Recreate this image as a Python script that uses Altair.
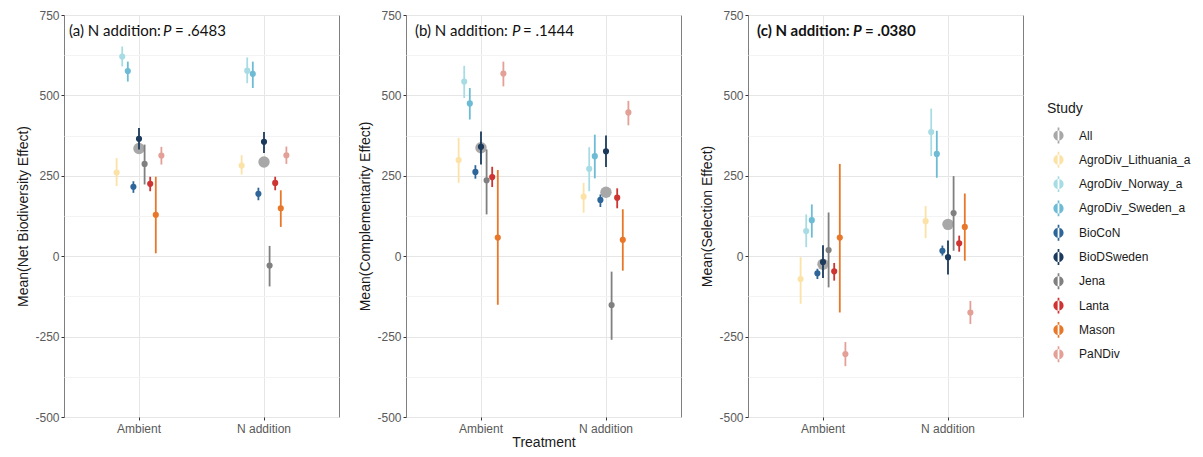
import altair as alt
import pandas as pd

studies = ["AgroDiv_Lithuania_a", "AgroDiv_Norway_a", "AgroDiv_Sweden_a", "BioCoN",
           "BioDSweden", "Jena", "Lanta", "Mason", "PaNDiv"]
legend_order = ["All"] + studies
treatments = ["Ambient", "N addition"]
colors = ["#A8A8A8", "#FCE2A6", "#A8DCE4", "#6DBBD4", "#2F6699", "#1B3A5C",
          "#808080", "#CE3431", "#E8772A", "#E3A097"]

# (a) Net Biodiversity Effect
nbe_amb_mean = [260, 621, 576, 216, 365, 287, 225, 129, 313]
nbe_amb_low = [218, 590, 543, 197, 332, 223, 202, 9, 285]
nbe_amb_high = [305, 652, 605, 233, 399, 347, 247, 247, 340]
nbe_nadd_mean = [282, 577, 567, 194, 356, -29, 228, 149, 314]
nbe_nadd_low = [254, 538, 523, 174, 321, -94, 205, 91, 287]
nbe_nadd_high = [314, 618, 605, 213, 386, 32, 247, 205, 341]
nbe_all = [335, 293]

# (b) Complementarity Effect
ce_amb_mean = [299, 543, 475, 262, 340, 236, 246, 58, 568]
ce_amb_low = [228, 492, 425, 241, 285, 130, 215, -151, 528]
ce_amb_high = [368, 592, 523, 283, 388, 332, 278, 268, 605]
ce_nadd_mean = [185, 272, 311, 175, 326, -152, 182, 51, 447]
ce_nadd_low = [135, 202, 242, 153, 277, -260, 149, -45, 407]
ce_nadd_high = [228, 339, 378, 192, 375, -48, 211, 146, 483]
ce_all = [337, 199]

# (c) Selection Effect
se_amb_mean = [-71, 78, 112, -53, -18, 19, -47, 58, -304]
se_amb_low = [-148, 28, 58, -71, -68, -97, -76, -175, -342]
se_amb_high = [-3, 130, 161, -39, 34, 136, -21, 287, -267]
se_nadd_mean = [109, 386, 318, 17, -3, 134, 40, 91, -175]
se_nadd_low = [56, 311, 244, 2, -57, 17, 14, -14, -211]
se_nadd_high = [156, 459, 390, 33, 49, 249, 64, 195, -139]
se_all = [-25, 99]

y_titles = ["Mean(Net Biodiversity Effect)", "Mean(Complementarity Effect)", "Mean(Selection Effect)"]
tags = ["(a) N addition:", "(b) N addition:", "(c) N addition:"]
pvals = ["= .6483", "= .1444", "= .0380"]

LEGEND_SYMBOL = ("M-0.7,0A0.7,0.7 0 1,0 0.7,0A0.7,0.7 0 1,0 -0.7,0Z"
                 "M-0.12,-1.1L0.12,-1.1L0.12,1.1L-0.12,1.1Z")

color_scale = alt.Scale(domain=legend_order, range=colors)
y_scale = alt.Scale(domain=[-500, 750], nice=False, zero=False)
x_scale = alt.Scale(domain=treatments, paddingInner=0.597, paddingOuter=0.3985)
off_scale = alt.Scale(domain=studies, paddingInner=0, paddingOuter=0)

FONT = "Liberation Sans"


def y_axis(title):
    return alt.Axis(
        title=title, values=list(range(-500, 751, 125)),
        labelExpr="datum.value % 250 === 0 ? '' + datum.value : ''",
        tickColor={"condition": {"test": "datum.value % 250 !== 0", "value": "transparent"},
                   "value": "#333333"},
        gridColor={"condition": {"test": "datum.value % 250 !== 0", "value": "#F3F3F3"},
                   "value": "#E6E6E6"},
        tickSize=3, labelPadding=2, labelFontSize=12, labelColor="#595959",
        labelFont=FONT, titleFont=FONT, titleFontSize=14,
        titleFontWeight="normal", titleColor="#1a1a1a", titlePadding=4, domain=False,
    )


def make_panel(i, amb_mean, amb_low, amb_high, n_mean, n_low, n_high, all_vals, show_legend):
    df = pd.DataFrame({
        "Study": studies * 2,
        "Treatment": [treatments[0]] * 9 + [treatments[1]] * 9,
        "mean": amb_mean + n_mean,
        "low": amb_low + n_low,
        "high": amb_high + n_high,
    })
    df_all = pd.DataFrame({"Study": ["All", "All"], "Treatment": treatments, "mean": all_vals})
    x = alt.X("Treatment:N", scale=x_scale, sort=treatments,
              axis=alt.Axis(title="Treatment" if i == 1 else None, labelAngle=0, tickSize=3,
                            labelFontSize=12, labelColor="#595959", labelFont=FONT,
                            titleFont=FONT, titleFontSize=14, titleFontWeight="normal",
                            titleColor="#1a1a1a", titlePadding=1, domain=False, grid=True,
                            gridColor="#E6E6E6", tickColor="#333333", labelPadding=3))
    xo = alt.XOffset("Study:N", scale=off_scale)
    if show_legend:
        leg = alt.Legend(title="Study", orient="none", legendX=983, legendY=87,
                         symbolType=LEGEND_SYMBOL, symbolSize=210, symbolStrokeWidth=0,
                         symbolOffset=4,
                         titleFontSize=14, titleFont=FONT, titleFontWeight="normal",
                         titleColor="#1a1a1a", labelFontSize=12, labelFont=FONT,
                         labelColor="#1a1a1a", labelLimit=300, rowPadding=7.3, labelOffset=13,
                         titlePadding=12)
    else:
        leg = None
    color = alt.Color("Study:N", scale=color_scale, legend=leg)
    y_enc = alt.Y("mean:Q", scale=y_scale, axis=y_axis(y_titles[i]))

    all_layer = alt.Chart(df_all).mark_circle(size=130, opacity=1).encode(x=x, y=y_enc, color=color)
    rules = alt.Chart(df).mark_rule(strokeWidth=1.8).encode(
        x=x, xOffset=xo, y=alt.Y("low:Q", scale=y_scale), y2="high:Q", color=color)
    pts = alt.Chart(df).mark_circle(size=38, opacity=1).encode(
        x=x, xOffset=xo, y=alt.Y("mean:Q", scale=y_scale), color=color)

    weight = "bold" if i == 2 else "normal"
    tag_x = [5, 9, 9][i]
    p_x = [99, 106, 105][i]
    v_x = [111, 117, 117][i]
    ty = 16
    fs = 15
    t1 = alt.Chart(pd.DataFrame({"t": [tags[i]]})).mark_text(
        align="left", baseline="middle", font="Lato", fontSize=fs, fontWeight=weight,
        color="#111111").encode(text="t:N", x=alt.value(tag_x), y=alt.value(ty))
    t2 = alt.Chart(pd.DataFrame({"t": ["P"]})).mark_text(
        align="left", baseline="middle", font="Lato", fontSize=fs, fontWeight=weight,
        fontStyle="italic", color="#111111").encode(text="t:N", x=alt.value(p_x), y=alt.value(ty))
    t3 = alt.Chart(pd.DataFrame({"t": [pvals[i]]})).mark_text(
        align="left", baseline="middle", font="Lato", fontSize=fs, fontWeight=weight,
        color="#111111").encode(text="t:N", x=alt.value(v_x), y=alt.value(ty))

    return alt.layer(all_layer, rules, pts, t1, t2, t3).properties(width=275, height=402)


pa = make_panel(0, nbe_amb_mean, nbe_amb_low, nbe_amb_high,
                nbe_nadd_mean, nbe_nadd_low, nbe_nadd_high, nbe_all, True)
pb = make_panel(1, ce_amb_mean, ce_amb_low, ce_amb_high,
                ce_nadd_mean, ce_nadd_low, ce_nadd_high, ce_all, False)
pc = make_panel(2, se_amb_mean, se_amb_low, se_amb_high,
                se_nadd_mean, se_nadd_low, se_nadd_high, se_all, False)

chart = alt.hconcat(pa, pb, pc, spacing=18).properties(
    padding={"left": 8, "top": 0, "right": 0, "bottom": 0}
).configure_view(stroke="#7F7F7F", strokeWidth=1).configure_legend(padding=0)

chart.save("out.html", embed_options={"renderer": "svg", "actions": False})
